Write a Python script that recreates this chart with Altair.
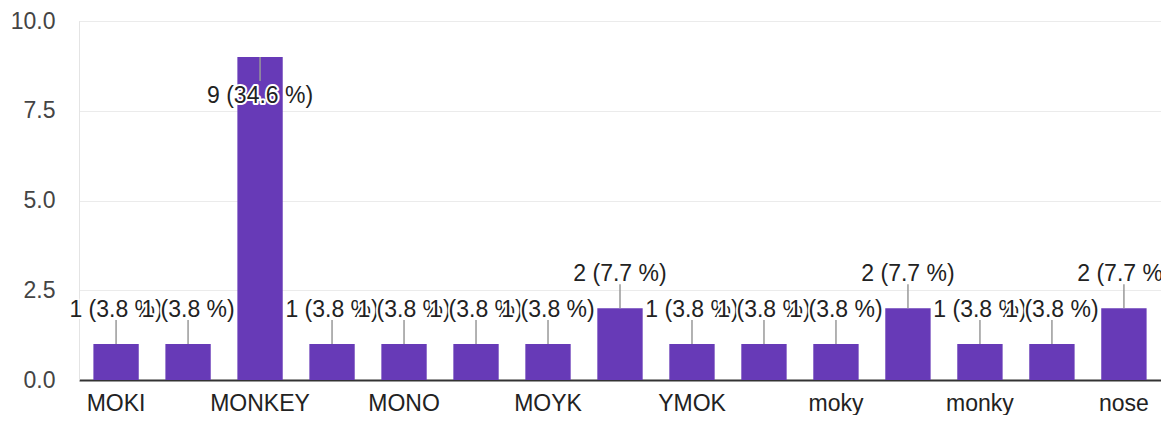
import altair as alt
import pandas as pd

categories = ["MOKI", "MOKY", "MONKEY", "MONKY", "MONO", "MONY", "MOYK", "Monkey",
              "YMOK", "mkoy", "moky", "monkey", "monky", "mony", "nose"]
counts = [1, 1, 9, 1, 1, 1, 1, 2, 1, 1, 1, 2, 1, 1, 2]
shown_labels = ["MOKI", "MONKEY", "MONO", "MOYK", "YMOK", "moky", "monky", "nose"]
y_ticks = [0, 2.5, 5, 7.5, 10]

total = sum(counts)
labels = [f"{c} ({c / total * 100:.1f} %)" for c in counts]
inside = [c == max(counts) for c in counts]

df = pd.DataFrame({
    "cat": categories,
    "n": counts,
    "label": labels,
    "inside": inside,
    "idx": list(range(len(categories))),
})

FONT = "Liberation Sans"
FS = 23
xenc = alt.X("cat:N", sort=categories, title=None,
             scale=alt.Scale(paddingInner=0.37, paddingOuter=0.2),
             axis=alt.Axis(values=shown_labels, labelAngle=0, ticks=False,
                           domainColor="#333333", domainWidth=2,
                           labelColor="#222222", labelFontSize=FS, labelFont=FONT,
                           labelPadding=12, grid=False))
yenc = alt.Y("n:Q", title=None,
             scale=alt.Scale(domain=[0, 10], nice=False),
             axis=alt.Axis(values=y_ticks, format=".1f", ticks=False,
                           domainColor="#e4e4e4", gridColor="#ebebeb",
                           labelColor="#444444", labelFontSize=FS, labelFont=FONT,
                           labelPadding=24))

base = alt.Chart(df)
bars = base.mark_bar(color="#673AB7").encode(x=xenc, y=yenc)

rule_up = base.transform_filter("!datum.inside").mark_rule(
    color="#999999", strokeWidth=1.5, y2Offset=-24).encode(
    x=alt.X("cat:N", sort=categories), y="n:Q", y2="n:Q")
rule_down = base.transform_filter("datum.inside").mark_rule(
    color="#999999", strokeWidth=1.5, y2Offset=24).encode(
    x=alt.X("cat:N", sort=categories), y="n:Q", y2="n:Q")

layers = [bars, rule_up, rule_down]
for i in range(len(categories)):
    dy = 39 if inside[i] else -34
    sub = base.transform_filter(f"datum.idx == {i}")
    halo = sub.mark_text(font=FONT, fontSize=FS, dy=dy, baseline="middle",
                         align="center", color="white", stroke="white",
                         strokeWidth=4, strokeJoin="round").encode(
        x=alt.X("cat:N", sort=categories), y="n:Q", text="label:N")
    txt = sub.mark_text(font=FONT, fontSize=FS, dy=dy, baseline="middle",
                        align="center", color="#222222").encode(
        x=alt.X("cat:N", sort=categories), y="n:Q", text="label:N")
    layers += [halo, txt]

chart = alt.layer(*layers).properties(
    width=1082, height=359,
    autosize=alt.AutoSizeParams(type="none"),
    padding={"left": 71, "top": 13, "right": 0, "bottom": 35},
).configure_view(stroke="#e4e4e4").configure(background="white")

chart.save("out.html", embed_options={"renderer": "svg", "actions": False})
